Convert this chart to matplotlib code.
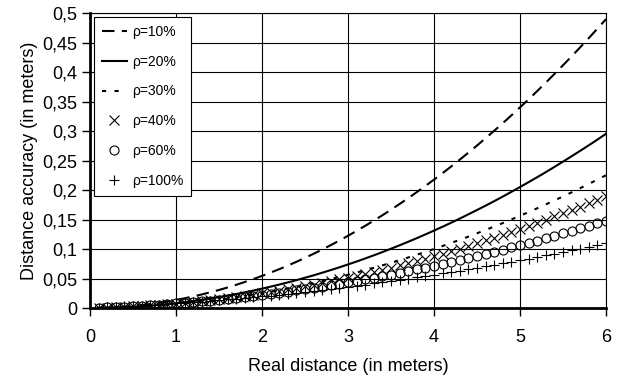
import matplotlib
matplotlib.use("Agg")
import matplotlib.pyplot as plt
from matplotlib.ticker import FuncFormatter, MultipleLocator

plt.rcParams['font.family'] = ['Liberation Sans', 'DejaVu Sans']

x = [round(0.1 * i, 1) for i in range(1, 61)]

rho10 = [0.0001, 0.0005, 0.0012, 0.0022, 0.0034, 0.0049, 0.0067, 0.0087, 0.0110, 0.0136,
         0.0165, 0.0196, 0.0230, 0.0267, 0.0306, 0.0348, 0.0393, 0.0441, 0.0491, 0.0544,
         0.0600, 0.0658, 0.0719, 0.0783, 0.0850, 0.0919, 0.0991, 0.1066, 0.1144, 0.1224,
         0.1307, 0.1393, 0.1481, 0.1572, 0.1666, 0.1763, 0.1862, 0.1964, 0.2069, 0.2176,
         0.2286, 0.2399, 0.2515, 0.2633, 0.2754, 0.2878, 0.3004, 0.3133, 0.3265, 0.3400,
         0.3537, 0.3677, 0.3820, 0.3966, 0.4114, 0.4265, 0.4419, 0.4575, 0.4734, 0.4896]

rho20 = [0.0001, 0.0003, 0.0007, 0.0013, 0.0021, 0.0030, 0.0040, 0.0052, 0.0066, 0.0082,
         0.0099, 0.0118, 0.0139, 0.0161, 0.0185, 0.0210, 0.0237, 0.0266, 0.0296, 0.0328,
         0.0362, 0.0397, 0.0434, 0.0472, 0.0513, 0.0554, 0.0598, 0.0643, 0.0690, 0.0738,
         0.0788, 0.0840, 0.0893, 0.0948, 0.1005, 0.1063, 0.1123, 0.1184, 0.1247, 0.1312,
         0.1378, 0.1446, 0.1516, 0.1588, 0.1661, 0.1735, 0.1811, 0.1889, 0.1969, 0.2050,
         0.2133, 0.2217, 0.2303, 0.2391, 0.2481, 0.2572, 0.2664, 0.2758, 0.2854, 0.2952]

rho30 = [0.0001, 0.0003, 0.0006, 0.0010, 0.0016, 0.0023, 0.0031, 0.0040, 0.0051, 0.0063,
         0.0076, 0.0090, 0.0106, 0.0123, 0.0141, 0.0160, 0.0181, 0.0203, 0.0226, 0.0250,
         0.0276, 0.0303, 0.0331, 0.0360, 0.0391, 0.0423, 0.0456, 0.0490, 0.0526, 0.0563,
         0.0601, 0.0640, 0.0681, 0.0723, 0.0766, 0.0810, 0.0856, 0.0903, 0.0951, 0.1000,
         0.1051, 0.1103, 0.1156, 0.1210, 0.1266, 0.1323, 0.1381, 0.1440, 0.1501, 0.1563,
         0.1626, 0.1690, 0.1756, 0.1823, 0.1891, 0.1960, 0.2031, 0.2103, 0.2176, 0.2250]

rho40 = [0.0003, 0.0008, 0.0013, 0.0019, 0.0026, 0.0034, 0.0043, 0.0053, 0.0064, 0.0076,
         0.0089, 0.0103, 0.0118, 0.0133, 0.0150, 0.0168, 0.0186, 0.0206, 0.0226, 0.0248,
         0.0270, 0.0294, 0.0318, 0.0344, 0.0370, 0.0397, 0.0426, 0.0455, 0.0485, 0.0516,
         0.0548, 0.0581, 0.0615, 0.0650, 0.0686, 0.0723, 0.0761, 0.0800, 0.0839, 0.0880,
         0.0922, 0.0964, 0.1008, 0.1053, 0.1098, 0.1145, 0.1192, 0.1240, 0.1290, 0.1340,
         0.1391, 0.1444, 0.1497, 0.1551, 0.1606, 0.1662, 0.1719, 0.1777, 0.1836, 0.1896]

rho60 = [0.0005, 0.0010, 0.0016, 0.0023, 0.0030, 0.0038, 0.0047, 0.0056, 0.0066, 0.0077,
         0.0088, 0.0101, 0.0113, 0.0127, 0.0141, 0.0156, 0.0171, 0.0188, 0.0204, 0.0222,
         0.0240, 0.0259, 0.0279, 0.0299, 0.0320, 0.0342, 0.0364, 0.0387, 0.0411, 0.0435,
         0.0460, 0.0486, 0.0512, 0.0539, 0.0567, 0.0595, 0.0625, 0.0654, 0.0685, 0.0716,
         0.0748, 0.0780, 0.0814, 0.0847, 0.0882, 0.0917, 0.0953, 0.0990, 0.1027, 0.1065,
         0.1104, 0.1143, 0.1183, 0.1224, 0.1265, 0.1307, 0.1350, 0.1393, 0.1437, 0.1482]

rho100 = [0.0006, 0.0012, 0.0019, 0.0026, 0.0034, 0.0042, 0.0050, 0.0059, 0.0068, 0.0078,
          0.0088, 0.0099, 0.0110, 0.0121, 0.0133, 0.0145, 0.0158, 0.0171, 0.0184, 0.0198,
          0.0212, 0.0227, 0.0242, 0.0258, 0.0274, 0.0290, 0.0307, 0.0324, 0.0342, 0.0360,
          0.0379, 0.0397, 0.0417, 0.0437, 0.0457, 0.0477, 0.0498, 0.0520, 0.0542, 0.0564,
          0.0587, 0.0610, 0.0633, 0.0657, 0.0682, 0.0707, 0.0732, 0.0757, 0.0784, 0.0810,
          0.0837, 0.0864, 0.0892, 0.0920, 0.0949, 0.0978, 0.1007, 0.1037, 0.1067, 0.1098]

labels = ['ρ=10%', 'ρ=20%', 'ρ=30%', 'ρ=40%', 'ρ=60%', 'ρ=100%']

fig = plt.figure(figsize=(6.23, 3.77), dpi=100)
ax = fig.add_axes([0.1445, 0.183, 0.8282, 0.7825])

ax.plot(x, rho10, color='black', lw=1.5, dashes=(6, 3.5), label=labels[0])
ax.plot(x, rho20, color='black', lw=1.5, label=labels[1])
ax.plot(x, rho30, color='black', lw=1.5, dashes=(2, 4), label=labels[2])
ax.plot(x, rho40, ls='none', marker='x', ms=6.5, mew=0.8, color='black', label=labels[3])
ax.plot(x, rho60, ls='none', marker='o', ms=6.5, mew=0.8, mfc='none', color='black', label=labels[4])
ax.plot(x, rho100, ls='none', marker='+', ms=7.5, mew=0.8, color='black', label=labels[5])

ax.set_xlim(0, 6)
ax.set_ylim(0, 0.5)
ax.xaxis.set_major_locator(MultipleLocator(1))
ax.yaxis.set_major_locator(MultipleLocator(0.05))

def comma(v, pos):
    s = f"{v:.2f}".rstrip('0').rstrip('.')
    return s.replace('.', ',')

ax.yaxis.set_major_formatter(FuncFormatter(comma))
ax.xaxis.set_major_formatter(FuncFormatter(lambda v, p: f"{int(round(v))}"))

ax.grid(True, color='black', lw=0.8)
ax.set_axisbelow(True)
for s in ax.spines.values():
    s.set_linewidth(0.8)
ax.spines['left'].set_linewidth(2)
ax.spines['bottom'].set_linewidth(2)

ax.tick_params(axis='both', direction='out', length=6, width=1, labelsize=13, pad=3)
ax.tick_params(axis='x', pad=9)

ax.set_xlabel('Real distance (in meters)', fontsize=13, labelpad=9)
ax.set_ylabel('Distance accuracy (in meters)', fontsize=13, labelpad=3)

leg = ax.legend(loc='upper left', fontsize=10, frameon=True, fancybox=False,
                edgecolor='black', framealpha=1, labelspacing=1.14,
                handlelength=1.8, handletextpad=0.4, borderpad=0.55,
                borderaxespad=0.3)
leg.get_frame().set_linewidth(0.8)

fig.savefig('out.png', dpi=100)
